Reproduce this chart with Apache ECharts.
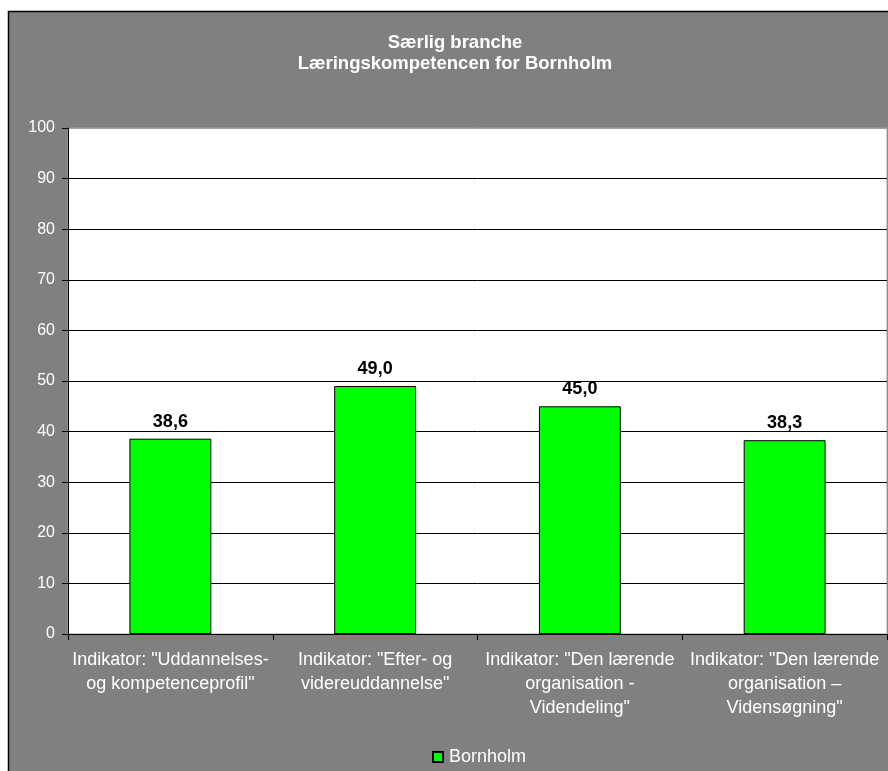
<!DOCTYPE html>
<html>
<head>
<meta charset="utf-8">
<script src="https://cdn.jsdelivr.net/npm/echarts@6/dist/echarts.min.js"></script>
<style>
html,body{margin:0;padding:0;background:#fff;}
#chart{width:888px;height:771px;}
</style>
</head>
<body>
<div id="chart"></div>
<script>
var titleLines = ['Særlig branche', 'Læringskompetencen for Bornholm'];
var categories = [
  'Indikator: "Uddannelses-\nog kompetenceprofil"',
  'Indikator: "Efter- og\nvidereuddannelse"',
  'Indikator: "Den lærende\norganisation -\nVidendeling"',
  'Indikator: "Den lærende\norganisation –\nVidensøgning"'
];
var seriesName = 'Bornholm';
var values = [38.6, 49.0, 45.0, 38.3];
var yMin = 0, yMax = 100, yStep = 10;

var font = '"Liberation Sans", Arial, sans-serif';
var chart = echarts.init(document.getElementById('chart'), null, {renderer: 'canvas'});
var splitColors = [];
for (var i = 0; i <= (yMax - yMin) / yStep; i++) splitColors.push(i === (yMax - yMin) / yStep ? '#a0a0a0' : '#000');

chart.setOption({
  animation: false,
  backgroundColor: '#fff',
  textStyle: {fontFamily: font},
  graphic: [
    {type: 'rect', z: -10, silent: true,
     shape: {x: 8.5, y: 11.5, width: 900, height: 800},
     style: {fill: '#808080', stroke: '#000', lineWidth: 1.5}},
    {type: 'text', z: 10, silent: true, x: 455, y: 42.5,
     style: {text: titleLines[0], fill: '#fff', font: 'bold 18.5px ' + font, textAlign: 'center', textVerticalAlign: 'middle'}},
    {type: 'text', z: 10, silent: true, x: 455, y: 64,
     style: {text: titleLines[1], fill: '#fff', font: 'bold 18.5px ' + font, textAlign: 'center', textVerticalAlign: 'middle'}}
  ],
  legend: {
    data: [seriesName],
    left: 432, top: 748,
    itemWidth: 10, itemHeight: 10, itemGap: 10,
    padding: 0,
    icon: 'rect',
    textStyle: {color: '#fff', fontSize: 18, fontFamily: font, padding: [0, 0, 0, 1]}
  },
  grid: {
    left: 68, right: 1, top: 128, bottom: 137,
    show: true, backgroundColor: '#fff', borderColor: '#a0a0a0', borderWidth: 1,
    containLabel: false
  },
  xAxis: {
    type: 'category',
    data: categories,
    axisLine: {show: true, lineStyle: {color: '#000', width: 1}},
    axisTick: {show: true, alignWithLabel: false, length: 6, lineStyle: {color: '#000'}},
    axisLabel: {color: '#fff', fontSize: 18, lineHeight: 24, margin: 14, interval: 0, fontFamily: font},
    splitLine: {show: false}
  },
  yAxis: {
    type: 'value',
    min: yMin, max: yMax, interval: yStep,
    axisLine: {show: true, lineStyle: {color: '#000', width: 1}},
    axisTick: {show: true, length: 6, lineStyle: {color: '#000'}},
    axisLabel: {color: '#fff', fontSize: 16, margin: 13, fontFamily: font},
    splitLine: {show: true, lineStyle: {color: splitColors, width: 1}}
  },
  series: [{
    name: seriesName,
    type: 'bar',
    data: values,
    barWidth: '40%',
    itemStyle: {color: '#00ff00', borderColor: '#000', borderWidth: 1},
    label: {
      show: true, position: 'top', distance: 8,
      color: '#000', fontSize: 18, fontWeight: 'bold', fontFamily: font,
      formatter: function (p) { return p.value.toFixed(1).replace('.', ','); }
    }
  }]
});
</script>
</body>
</html>
